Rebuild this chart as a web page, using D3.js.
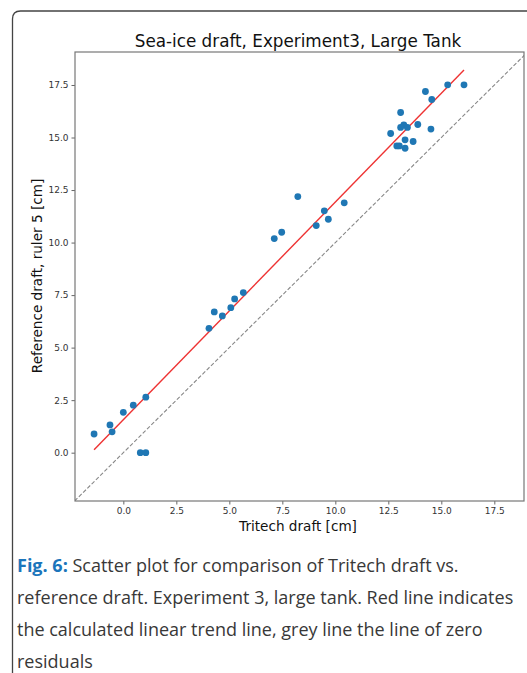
<!DOCTYPE html>
<meta charset='utf-8'>
<style>
body {
    margin: 0;
    background: #fff;
}
svg text {
    font-family: 'DejaVu Sans', sans-serif;
}
.caption {
    font-family: 'Open Sans', sans-serif;
    font-size: 18px;
    fill: #383838;
}
</style>
<body>
<div class='chart'></div>
<script src='https://cdn.jsdelivr.net/npm/d3@7'></script>
<script>
// Tritech draft (x) vs reference draft, ruler 5 (y), both in cm
var tritech = [-1.38, -0.63, -0.53, 0.0, 0.47, 1.06, 0.80, 1.06,
    4.04, 4.29, 4.67, 5.07, 5.25, 5.66, 7.12, 7.47, 8.23, 9.10, 9.48, 9.67, 10.42,
    15.30, 16.07, 14.25, 14.55, 13.08, 13.23, 13.08, 13.40, 13.89, 12.61, 14.51,
    13.29, 13.67, 12.90, 13.02, 13.29];
var reference = [0.89, 1.32, 0.99, 1.92, 2.26, 2.64, 0.0, 0.0,
    5.92, 6.70, 6.51, 6.90, 7.32, 7.62, 10.19, 10.49, 12.19, 10.81, 11.51, 11.11, 11.89,
    17.51, 17.51, 17.19, 16.81, 16.19, 15.60, 15.48, 15.48, 15.62, 15.19, 15.40,
    14.89, 14.81, 14.60, 14.60, 14.49];

// linear trend line
var trendSlope = 1.036,
    trendIntercept = 1.57;

var xTicks = [0, 2.5, 5, 7.5, 10, 12.5, 15, 17.5],
    yTicks = [0, 2.5, 5, 7.5, 10, 12.5, 15, 17.5];

var xLimits = [-2.28, 18.9],
    yLimits = [-2.3, 19.07];

var captionLines = [
    ['Fig. 6:', ' Scatter plot for comparison of Tritech draft vs.'],
    ['', 'reference draft. Experiment 3, large tank. Red line indicates'],
    ['', 'the calculated linear trend line, grey line the line of zero'],
    ['', 'residuals']
];

var width = 527,
    height = 673;
var plot = {left: 75, right: 524, top: 52, bottom: 501};

var svg = d3.select('.chart').append('svg')
    .attr('width', width)
    .attr('height', height);

// card frame, open to the right and bottom
svg.append('path')
    .attr('d', 'M12.5,' + height + ' L12.5,19 Q12.5,11 20.5,11 L' + width + ',11')
    .attr('fill', 'none')
    .attr('stroke', '#444')
    .attr('stroke-width', 1.3);

var x = d3.scaleLinear().domain(xLimits).range([plot.left, plot.right]);
var y = d3.scaleLinear().domain(yLimits).range([plot.bottom, plot.top]);

svg.append('clipPath').attr('id', 'clip')
    .append('rect')
    .attr('x', plot.left).attr('y', plot.top)
    .attr('width', plot.right - plot.left)
    .attr('height', plot.bottom - plot.top);

var g = svg.append('g').attr('clip-path', 'url(#clip)');

// zero residual line
var lo = Math.min(xLimits[0], yLimits[0]),
    hi = Math.max(xLimits[1], yLimits[1]);
g.append('line')
    .attr('x1', x(lo)).attr('y1', y(lo))
    .attr('x2', x(hi)).attr('y2', y(hi))
    .attr('stroke', '#888')
    .attr('stroke-width', 1.1)
    .attr('stroke-dasharray', '4,2');

// trend line over data range
var xmin = d3.min(tritech),
    xmax = d3.max(tritech);
g.append('line')
    .attr('x1', x(xmin)).attr('y1', y(trendSlope * xmin + trendIntercept))
    .attr('x2', x(xmax)).attr('y2', y(trendSlope * xmax + trendIntercept))
    .attr('stroke', '#ee3333')
    .attr('stroke-width', 1.4);

g.selectAll('.dot')
    .data(d3.range(tritech.length))
    .enter().append('circle')
    .attr('class', 'dot')
    .attr('cx', function(i) { return x(tritech[i]); })
    .attr('cy', function(i) { return y(reference[i]); })
    .attr('r', 3.4)
    .attr('fill', '#1f77b4');

// axes
var xAxis = svg.append('g')
    .attr('transform', 'translate(0,' + plot.bottom + ')')
    .call(d3.axisBottom(x).tickValues(xTicks).tickFormat(d3.format('.1f')).tickSize(3.5).tickPadding(3));
var yAxis = svg.append('g')
    .attr('transform', 'translate(' + plot.left + ',0)')
    .call(d3.axisLeft(y).tickValues(yTicks).tickFormat(d3.format('.1f')).tickSize(3.5).tickPadding(3));

[xAxis, yAxis].forEach(function(a) {
    a.select('.domain').remove();
    a.selectAll('.tick line').attr('stroke', '#666');
    a.selectAll('.tick text')
        .attr('fill', '#333')
        .style('font-size', '9px')
        .style('font-family', "'DejaVu Sans', sans-serif");
});

svg.append('rect')
    .attr('x', plot.left).attr('y', plot.top)
    .attr('width', plot.right - plot.left)
    .attr('height', plot.bottom - plot.top)
    .attr('fill', 'none')
    .attr('stroke', '#777')
    .attr('stroke-width', 1.2);

svg.append('text')
    .attr('x', 298)
    .attr('y', 47)
    .attr('text-anchor', 'middle')
    .style('font-size', '16.8px')
    .attr('fill', '#111')
    .text('Sea-ice draft, Experiment3, Large Tank');

svg.append('text')
    .attr('x', 298)
    .attr('y', 531)
    .attr('text-anchor', 'middle')
    .style('font-size', '13.6px')
    .attr('fill', '#111')
    .text('Tritech draft [cm]');

svg.append('text')
    .attr('transform', 'translate(42,276) rotate(-90)')
    .attr('text-anchor', 'middle')
    .style('font-size', '13.6px')
    .attr('fill', '#111')
    .text('Reference draft, ruler 5 [cm]');

// caption
var cap = svg.selectAll('.caption')
    .data(captionLines)
    .enter().append('text')
    .attr('class', 'caption')
    .attr('x', 17)
    .attr('y', function(d, i) { return 572 + i * 32; });
cap.append('tspan')
    .style('font-weight', 'bold')
    .attr('fill', '#1b75bb')
    .text(function(d) { return d[0]; });
cap.append('tspan')
    .text(function(d) { return d[1]; });
</script>
